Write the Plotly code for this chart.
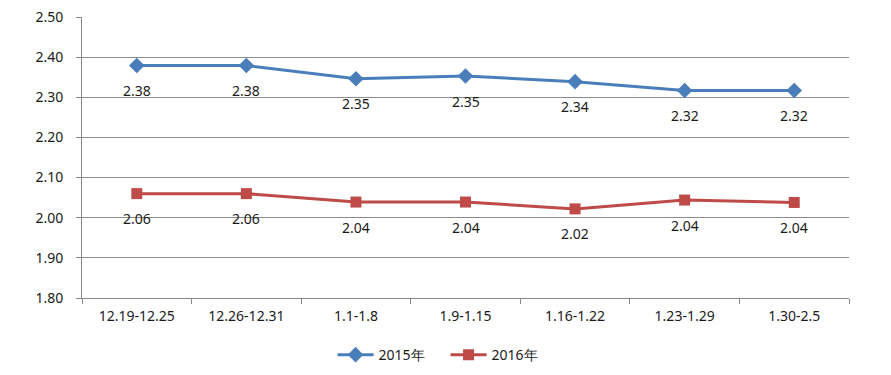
import plotly.graph_objects as go

categories = ["12.19-12.25", "12.26-12.31", "1.1-1.8", "1.9-1.15", "1.16-1.22", "1.23-1.29", "1.30-2.5"]
values_2015 = [2.379, 2.379, 2.346, 2.353, 2.339, 2.317, 2.317]
values_2016 = [2.060, 2.060, 2.039, 2.039, 2.022, 2.044, 2.038]
y_ticks = [1.80, 1.90, 2.00, 2.10, 2.20, 2.30, 2.40, 2.50]

BLUE = "#4A7EBB"
RED = "#BE4B48"
FONT = "Noto Sans"

fig = go.Figure()
fig.add_trace(go.Scatter(
    x=categories, y=values_2015, name="2015年", mode="lines+markers",
    line=dict(color=BLUE, width=3),
    marker=dict(symbol="diamond", size=12, color=BLUE),
))
fig.add_trace(go.Scatter(
    x=categories, y=values_2016, name="2016年", mode="lines+markers",
    line=dict(color=RED, width=3),
    marker=dict(symbol="square", size=11, color=RED),
))

for series in (values_2015, values_2016):
    for c, v in zip(categories, series):
        fig.add_annotation(x=c, y=v, text=f"{v:.2f}", showarrow=False,
                           yshift=-25, font=dict(family=FONT, size=14, color="#1a1a1a"))

fig.update_layout(
    width=891, height=375,
    margin=dict(l=82, r=42, t=17, b=77, autoexpand=False),
    paper_bgcolor="white", plot_bgcolor="white",
    font=dict(family=FONT, size=14, color="#1a1a1a"),
    legend=dict(orientation="h", x=0.474, xanchor="center", y=-0.203, yanchor="middle",
                font=dict(family=FONT, size=14), itemwidth=36, tracegroupgap=0,
                entrywidth=62, entrywidthmode="pixels"),
    showlegend=True,
)
fig.update_xaxes(
    type="category", tickson="boundaries", ticks="outside", ticklen=5,
    tickcolor="#888888", showline=True, linecolor="#888888", linewidth=1,
    showgrid=False, range=[-0.5, 6.5], ticklabelstandoff=5, automargin=False,
)
fig.update_yaxes(
    range=[1.80, 2.50], tickvals=y_ticks, ticktext=[f"{t:.2f}" for t in y_ticks],
    ticks="outside", ticklen=5, tickcolor="#888888",
    showline=True, linecolor="#888888", linewidth=1,
    showgrid=True, gridcolor="#8c8c8c", gridwidth=1, zeroline=False,
    ticklabelstandoff=10, automargin=False,
)

fig.write_html("out.html", config={"displayModeBar": False},
               post_script="document.body.style.margin='0';")
